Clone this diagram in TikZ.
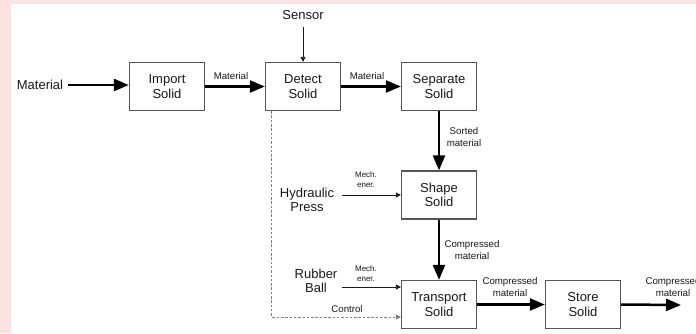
\documentclass[tikz,border=0pt]{standalone}
\usepackage{fontspec}
\setmainfont{Liberation Sans}
\usetikzlibrary{arrows.meta}
\definecolor{pagebg}{RGB}{255,226,226}
\definecolor{boxline}{RGB}{85,85,85}
\definecolor{inkdark}{RGB}{25,25,25}
\tikzset{
  fnbox/.style={draw=boxline, line width=1.3pt, fill=white, minimum width=75pt,
    minimum height=48pt, align=center, inner sep=2pt,
    font=\fontsize{13}{14.5}\selectfont, text=inkdark},
  bigflow/.style={line width=2.5pt, black, -{Triangle[length=15pt,width=12pt]}},
  smallflow/.style={line width=0.8pt, inkdark, -{Triangle[length=5pt,width=5pt]}},
  ctrlflow/.style={line width=0.9pt, gray, dash pattern=on 2.5pt off 1.8pt,
    -{Triangle[length=5pt,width=5pt]}},
  bigtxt/.style={font=\fontsize{13}{14.5}\selectfont, text=inkdark, align=center, inner sep=1pt},
  flowtxt/.style={font=\fontsize{9.7}{12}\selectfont, text=inkdark, align=center, inner sep=0pt},
  tinytxt/.style={font=\fontsize{8}{10}\selectfont, text=inkdark, align=center, inner sep=0pt}
}
\begin{document}
\begin{tikzpicture}[x=1pt, y=-1pt]
  % page background and white drawing area
  \useasboundingbox (0,0) rectangle (696,333);
  \fill[pagebg] (0,0) rectangle (696,333);
  \fill[white] (11,4) rectangle (696,333);

  % function blocks
  \node[fnbox] (imp) at (167,86.5) {Import\\Solid};
  \node[fnbox] (det) at (303,86.5) {Detect\\Solid};
  \node[fnbox] (sep) at (439,86.5) {Separate\\Solid};
  \node[fnbox] (shp) at (439,195) {Shape\\Solid};
  \node[fnbox] (trn) at (439,304.5) {Transport\\Solid};
  \node[fnbox] (sto) at (583,304.5) {Store\\Solid};

  % external inputs
  \node[bigtxt] (mat) at (40,85) {Material};
  \node[bigtxt] (sen) at (303,15) {Sensor};
  \node[bigtxt] (hyd) at (307,200) {Hydraulic\\Press};
  \node[bigtxt] (rub) at (316,281) {Rubber\\Ball};
  \coordinate (hydout) at (342,195);
  \coordinate (rubout) at (342,287);
  \coordinate (matout) at (68,85);
  \coordinate (senout) at (303,27);
  \coordinate (finalout) at (681,305);

  % material flows
  \draw[bigflow] (matout) -- (matout -| imp.west);
  \draw[bigflow] (imp.east) -- (det.west);
  \draw[bigflow] (det.east) -- (sep.west);
  \draw[bigflow] (sep.south) -- (shp.north);
  \draw[bigflow] (shp.south) -- (trn.north);
  \draw[bigflow] (trn.east) -- (sto.west);
  \draw[bigflow] (sto.east) -- (finalout);

  % signal and energy flows
  \draw[smallflow] (senout) -- (det.north);
  \draw[smallflow] (hydout) -- (shp.west);
  \draw[smallflow] (rubout) -- (rubout -| trn.west);
  \draw[ctrlflow] ([xshift=7pt]det.south west) |- ([yshift=-12.5pt]trn.west);

  % flow labels
  \node[flowtxt] (l1) at (231,76) {Material};
  \node[flowtxt] (l2) at (367,76) {Material};
  \node[flowtxt] (l3) at (464,137) {Sorted\\material};
  \node[flowtxt] (l4) at (472,250.5) {Compressed\\material};
  \node[flowtxt] (l5) at (510,287) {Compressed\\material};
  \node[flowtxt] (l6) at (673,287) {Compressed\\material};
  \node[flowtxt] (l7) at (347,309) {Control};
  \node[tinytxt] (l8) at (366,180) {Mech.\\ener.};
  \node[tinytxt] (l9) at (366,274) {Mech.\\ener.};
\end{tikzpicture}
\end{document}
